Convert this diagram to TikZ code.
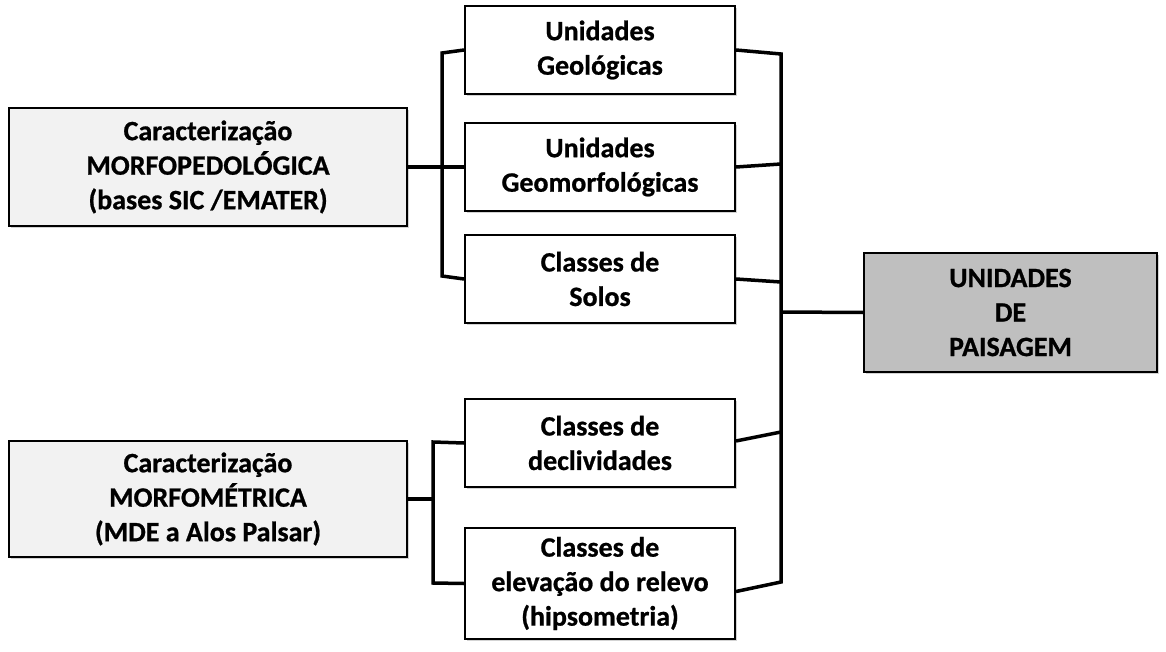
\documentclass[tikz,border=0pt]{standalone}
\usepackage{fontspec}
\setmainfont{Carlito}[BoldFeatures={FakeBold=0.8}]
\usetikzlibrary{shadows,calc}
\definecolor{lightbox}{HTML}{F2F2F2}
\definecolor{darkbox}{HTML}{BFBFBF}
\tikzset{
  box/.style={draw=black, line width=2pt, fill=white, rectangle, align=center,
    font=\fontsize{28}{34.5}\selectfont\bfseries, inner sep=0pt,
    drop shadow={shadow xshift=2pt, shadow yshift=-2pt, opacity=0.35}},
  conn/.style={line width=3.5pt, line join=miter, line cap=butt}
}
\begin{document}
\begin{tikzpicture}[x=1pt,y=-1pt]
\useasboundingbox (0,0) rectangle (1166,652);
\node[box, fill=lightbox, minimum width=398pt, minimum height=118pt] (L1) at (208,167) {Caracterização\\MORFOPEDOLÓGICA\\(bases SIC /EMATER)};
\node[box, fill=lightbox, minimum width=398pt, minimum height=116pt] (L2) at (208,499) {Caracterização\\MORFOMÉTRICA\\(MDE a Alos Palsar)};
\node[box, minimum width=270pt, minimum height=88pt] (A) at (600,50) {Unidades\\Geológicas};
\node[box, minimum width=270pt, minimum height=88pt] (B) at (600,167) {Unidades\\Geomorfológicas};
\node[box, minimum width=270pt, minimum height=88pt] (C) at (600,279) {Classes de\\Solos};
\node[box, minimum width=270pt, minimum height=88pt] (D) at (600,443) {Classes de\\declividades};
\node[box, minimum width=270pt, minimum height=111pt] (E) at (600,583.5) {Classes de\\elevação do relevo\\(hipsometria)};
\node[box, fill=darkbox, minimum width=293pt, minimum height=119pt] (R) at (1010.5,312.5) {UNIDADES\\DE\\PAISAGEM};
% junction coordinates
\coordinate (ja) at (442,53);
\coordinate (jc) at (442,276);
\coordinate (jm) at (433,499);
\coordinate (jd) at (433,442);
\coordinate (je) at (433,583);
\coordinate (ra) at (781,54);
\coordinate (rb) at (781,164);
\coordinate (rc) at (781,282);
\coordinate (rd) at (781,432);
\coordinate (re) at (781,582);
\coordinate (rr) at (781,312);
% left upper bracket
\draw[conn] (A.west) -- (ja) -- (jc) -- (C.west);
\draw[conn] (L1.east) -- (B.west);
% left lower bracket
\draw[conn] (L2.east) -- (jm);
\draw[conn] (D.west) -- (jd) -- (je) -- (E.west);
% right bracket
\draw[conn] (A.east) -- (ra) -- (re) -- ($(E.east)+(0,8)$);
\draw[conn] (B.east) -- (rb);
\draw[conn] (C.east) -- (rc);
\draw[conn] ($(D.east)+(0,-2)$) -- (rd);
\draw[conn] (R.west) -- (rr);
\end{tikzpicture}
\end{document}
